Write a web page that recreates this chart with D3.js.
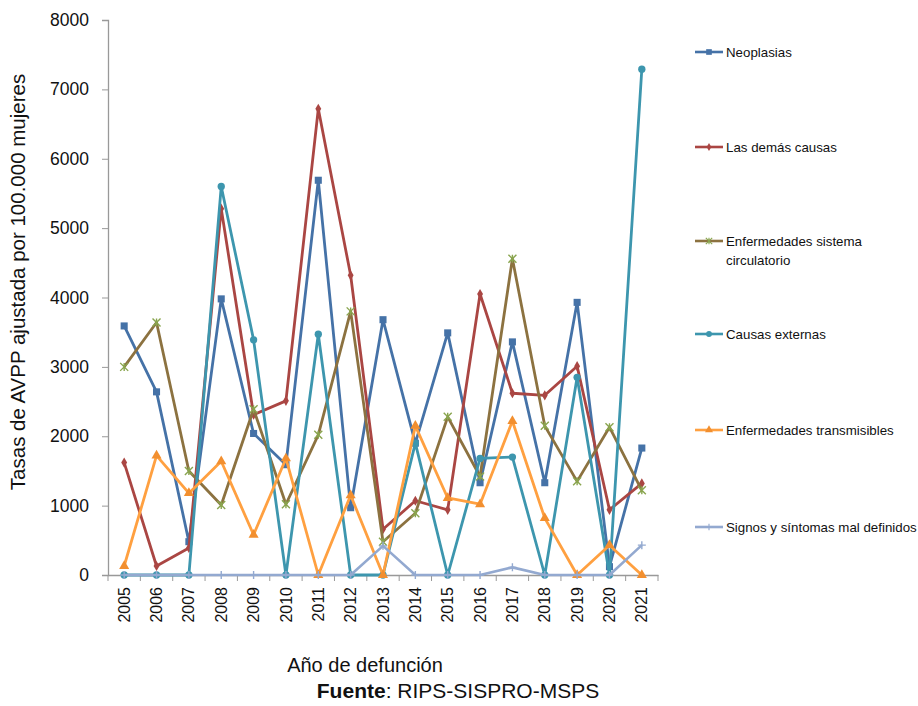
<!DOCTYPE html>
<html><head><meta charset="utf-8">
<script src="https://cdn.jsdelivr.net/npm/d3@7"></script>
<style>body{margin:0;background:#fff;} svg{display:block;font-family:Arial,"Liberation Sans",sans-serif;}</style>
</head><body><svg id="c" width="918" height="706"></svg>
<script>
const years = ["2005","2006","2007","2008","2009","2010","2011","2012","2013","2014","2015","2016","2017","2018","2019","2020","2021"];
const yTicks = [0,1000,2000,3000,4000,5000,6000,7000,8000];
const neoplasias    = [3590,2640,480,3980,2040,1590,5690,970,3680,1900,3490,1330,3360,1330,3930,120,1830];
const demasCausas   = [1620,130,390,5280,2310,2510,6720,4320,660,1070,940,4050,2620,2590,3010,940,1320];
const circulatorio  = [3000,3640,1500,1010,2390,1020,2020,3800,480,890,2280,1420,4560,2150,1350,2130,1220];
const externas      = [0,0,0,5600,3390,0,3470,0,0,1900,0,1680,1700,0,2850,0,7290];
const transmisibles = [130,1720,1180,1640,580,1680,0,1150,0,2150,1110,1020,2220,820,0,430,0];
const signos        = [0,0,0,0,0,0,0,0,420,0,0,0,110,0,0,0,430];

const seriesNames = ["Neoplasias","Las demás causas","Enfermedades sistema circulatorio","Causas externas","Enfermedades transmisibles","Signos y síntomas mal definidos"];
const seriesValues = [neoplasias,demasCausas,circulatorio,externas,transmisibles,signos];
const lineColors = ["#4572A7","#AA4643","#8C7240","#3D96AE","#FFA040","#93A9D0"];
const markerColors = ["#4572A7","#AA4643","#89A54E","#3D96AE","#F28F2F","#93A9D0"];
const markerTypes = ["square","diamond","asterisk","circle","triangle","plus"];

const svg = d3.select("#c");
const m = {l:108, r:658, t:20, b:575};
const x = d3.scaleBand().domain(years).range([m.l, m.r]);
const y = d3.scaleLinear().domain([0,8000]).range([m.b, m.t]);

// axes
const yAxis = d3.axisLeft(y).tickValues(yTicks).tickFormat(d3.format("d")).tickSize(6).tickPadding(13);
const gy = svg.append("g").attr("transform",`translate(${m.l},0)`).call(yAxis);
gy.select(".domain").attr("stroke","#999").attr("stroke-width",1.3);
gy.selectAll(".tick line").attr("stroke","#999");
gy.selectAll(".tick text").attr("font-size",17.5).attr("fill","#111").attr("font-family","Arial,'Liberation Sans',sans-serif");

const xAxis = d3.axisBottom(x).tickSize(0).tickPadding(10);
const gx = svg.append("g").attr("transform",`translate(0,${m.b})`).call(xAxis);
gx.select(".domain").attr("stroke","#999").attr("stroke-width",1.3);
gx.selectAll(".tick text").attr("font-size",16).attr("fill","#111")
  .attr("font-family","Arial,'Liberation Sans',sans-serif")
  .attr("transform","rotate(-90)").attr("text-anchor","end").attr("dx","-12").attr("dy","0.35em").attr("y",0).attr("x",0);
// band boundary tick marks
const bounds = years.map(d=>x(d)).concat([m.r]);
svg.append("g").selectAll("line").data(bounds).join("line")
  .attr("x1",d=>d).attr("x2",d=>d).attr("y1",m.b).attr("y2",m.b+6).attr("stroke","#999");

function markerPath(type){
  switch(type){
    case "square": return d3.symbol(d3.symbolSquare, 50)();
    case "diamond": return d3.symbol(d3.symbolDiamond, 30)();
    case "circle": return d3.symbol(d3.symbolCircle, 42)();
    case "triangle": return d3.symbol(d3.symbolTriangle, 44)();
    case "plus": return "M-4,0L4,0M0,-4L0,4";
    case "asterisk": return "M-4,-4L4,4M-4,4L4,-4M0,-4L0,4";
  }
}

const line = d3.line().x((d,i)=>x(years[i])+x.bandwidth()/2).y(d=>y(d));
seriesValues.forEach((vals,k)=>{
  const g = svg.append("g");
  g.append("path").datum(vals).attr("d",line).attr("fill","none")
    .attr("stroke",lineColors[k]).attr("stroke-width",k===5?2.6:2.8).attr("stroke-linejoin","round");
  const open = markerTypes[k]==="plus"||markerTypes[k]==="asterisk";
  g.selectAll("path.mk").data(vals).join("path").attr("class","mk")
    .attr("transform",(d,i)=>`translate(${x(years[i])+x.bandwidth()/2},${y(d)})`)
    .attr("d",markerPath(markerTypes[k]))
    .attr("fill",open?"none":markerColors[k])
    .attr("stroke",markerColors[k]).attr("stroke-width",open?1.4:0);
});

// legend
const legY = [52,147,241,334,430,527];
const lg = svg.append("g");
seriesNames.forEach((n,k)=>{
  const gg = lg.append("g").attr("transform",`translate(695,${legY[k]})`);
  gg.append("line").attr("x1",0).attr("x2",28).attr("y1",0).attr("y2",0).attr("stroke",lineColors[k]).attr("stroke-width",2.6);
  const open = markerTypes[k]==="plus"||markerTypes[k]==="asterisk";
  gg.append("path").attr("transform","translate(14,0) scale(0.8)").attr("d",markerPath(markerTypes[k]))
    .attr("fill",open?"none":markerColors[k]).attr("stroke",markerColors[k]).attr("stroke-width",open?1.4:0);
  const t = gg.append("text").attr("x",31).attr("y",4.5).attr("font-size",13.3).attr("fill","#111");
  if(k===2){
    t.append("tspan").attr("x",31).text("Enfermedades sistema");
    t.append("tspan").attr("x",31).attr("dy",19).text("circulatorio");
  } else t.text(n);
});

// axis titles
svg.append("text").attr("transform","translate(25,282) rotate(-90)").attr("text-anchor","middle")
  .attr("font-size",20.5).attr("fill","#111").text("Tasas de AVPP ajustada por 100.000 mujeres");
svg.append("text").attr("x",365).attr("y",672).attr("text-anchor","middle").attr("font-size",20).attr("fill","#111").text("Año de defunción");
const f = svg.append("text").attr("x",458).attr("y",698).attr("text-anchor","middle").attr("font-size",21).attr("fill","#111");
f.append("tspan").attr("font-weight","bold").text("Fuente");
f.append("tspan").text(": RIPS-SISPRO-MSPS");
</script></body></html>
